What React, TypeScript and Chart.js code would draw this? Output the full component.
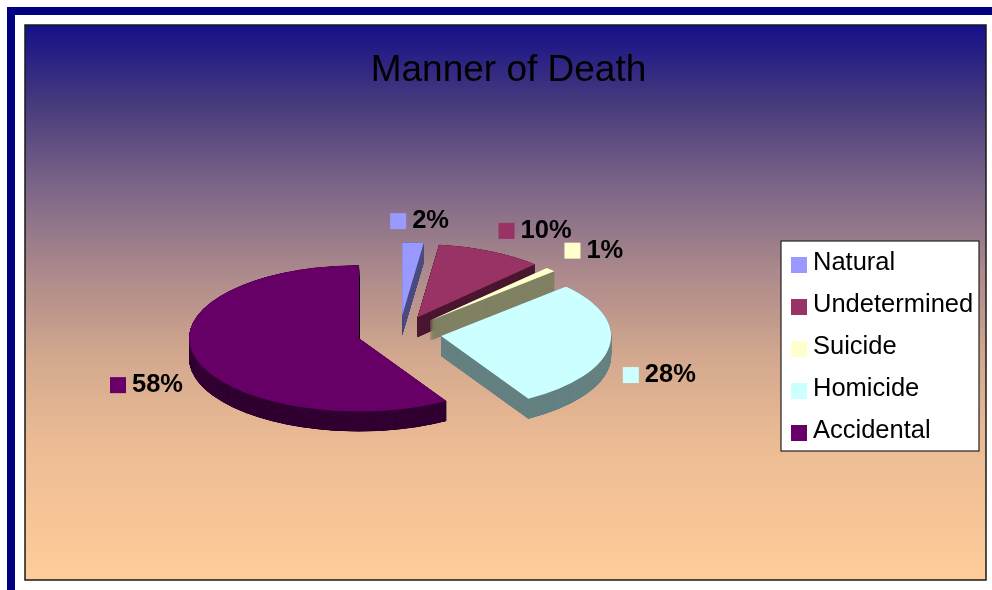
import React, { useEffect, useRef } from "react";
import { Chart, registerables } from "chart.js";

Chart.register(...registerables);

const categories = ["Natural", "Undetermined", "Suicide", "Homicide", "Accidental"];
const percentages = [2, 10, 1, 28, 58];
const topColors = ["#9999FF", "#993366", "#FFFFCC", "#CCFFFF", "#660066"];
const sideColors = ["#4D4D80", "#4D1A33", "#808066", "#668080", "#330033"];
const titleText = "Manner of Death";
const gradientStops: [number, string][] = [
  [0, "#15108A"],
  [0.14, "#463A7C"],
  [0.3, "#7F6888"],
  [0.45, "#AD8A8C"],
  [0.6, "#D3A88E"],
  [0.75, "#EBBB94"],
  [1, "#FFCC99"],
];
const labelNudgeX = [-18, -6, -14.5, -29, -28];
const labelNudgeY = [0.5, -0.5, -3.5, 25.5, 21.5];

const FONT = '"Liberation Sans", Arial, sans-serif';
const SQUISH = 0.43;
const DEPTH = 20;
const DEPTH_STEP = 0.1;
const RADIUS = 170;
const EXPLODE = 42;
const CX = 399.5;
const CY = 333.5;
const LABEL_DIST = 263;

const framePlugin = {
  id: "frame",
  beforeDraw(chart: any) {
    const { ctx } = chart;
    ctx.save();
    ctx.fillStyle = "#FFFFFF";
    ctx.fillRect(0, 0, 992, 590);
    ctx.fillStyle = "#000080";
    ctx.fillRect(7, 7, 985, 8);
    ctx.fillRect(7, 7, 8, 583);
    const g = ctx.createLinearGradient(0, 25, 0, 580);
    gradientStops.forEach(([p, c]) => g.addColorStop(p, c));
    ctx.fillStyle = g;
    ctx.fillRect(25, 25, 961, 555);
    ctx.strokeStyle = "#1A1A1A";
    ctx.lineWidth = 1.5;
    ctx.strokeRect(25, 25, 961, 555);
    ctx.restore();
  },
  afterLayout(chart: any) {
    const a = chart.chartArea;
    a.left = CX - RADIUS;
    a.right = CX + RADIUS;
    a.top = CY - RADIUS;
    a.bottom = CY + RADIUS;
    a.width = RADIUS * 2;
    a.height = RADIUS * 2;
  },
};

const pie3dPlugin = {
  id: "pie3d",
  beforeDatasetDraw(chart: any, args: any) {
    const { ctx } = chart;
    const arcs = args.meta.data;
    arcs.forEach((arc: any, i: number) => {
      const mid = (arc.startAngle + arc.endAngle) / 2;
      const place = (depth: number) => {
        ctx.translate(0, depth + CY);
        ctx.scale(1, SQUISH);
        ctx.translate(Math.cos(mid) * EXPLODE, Math.sin(mid) * EXPLODE - CY);
      };
      const original = arc.options;
      arc.options = new Proxy(original, {
        get: (t: any, k: any) => (k === "backgroundColor" ? sideColors[i] : t[k]),
      });
      for (let d = DEPTH; d > 0; d -= DEPTH_STEP) {
        ctx.save();
        place(d);
        arc.draw(ctx);
        ctx.restore();
      }
      arc.options = original;
      ctx.save();
      place(0);
      arc.draw(ctx);
      ctx.restore();
    });
    return false;
  },
  afterDatasetsDraw(chart: any) {
    const { ctx } = chart;
    const arcs = chart.getDatasetMeta(0).data;
    ctx.save();
    ctx.textBaseline = "middle";
    ctx.textAlign = "left";
    ctx.font = `bold 25.5px ${FONT}`;
    arcs.forEach((arc: any, i: number) => {
      const mid = (arc.startAngle + arc.endAngle) / 2;
      const x = arc.x + Math.cos(mid) * LABEL_DIST + labelNudgeX[i];
      const y = arc.y + Math.sin(mid) * LABEL_DIST * SQUISH + labelNudgeY[i];
      ctx.fillStyle = topColors[i];
      ctx.fillRect(x - 8, y - 8, 16, 16);
      ctx.fillStyle = "#000000";
      ctx.fillText(`${percentages[i]}%`, x + 14, y);
    });
    ctx.restore();
  },
};

const legendBoxPlugin = {
  id: "legendBox",
  afterDraw(chart: any) {
    const { ctx } = chart;
    const labels: string[] = chart.data.labels;
    ctx.save();
    ctx.fillStyle = "#FFFFFF";
    ctx.fillRect(781, 241, 198, 210);
    ctx.strokeStyle = "#222222";
    ctx.lineWidth = 1.2;
    ctx.strokeRect(781, 241, 198, 210);
    ctx.font = `25.5px ${FONT}`;
    ctx.textBaseline = "middle";
    ctx.textAlign = "left";
    labels.forEach((label, i) => {
      const rowY = 261 + i * 42;
      ctx.fillStyle = topColors[i];
      ctx.fillRect(791, rowY - 4, 16, 16);
      ctx.fillStyle = "#000000";
      ctx.fillText(label, 813, rowY + 2);
    });
    ctx.restore();
  },
};

export default function App() {
  const ref = useRef<HTMLCanvasElement | null>(null);
  useEffect(() => {
    if (!ref.current) return;
    const chart = new Chart(ref.current, {
      type: "pie",
      data: {
        labels: categories,
        datasets: [
          {
            data: percentages,
            backgroundColor: topColors,
            borderWidth: 0,
          },
        ],
      },
      options: {
        responsive: false,
        animation: false,
        radius: RADIUS,
        layout: { padding: { left: 25, right: 0, top: 20, bottom: 0 } },
        plugins: {
          legend: { display: false },
          tooltip: { enabled: false },
          title: {
            display: true,
            text: titleText,
            color: "#000000",
            font: { family: FONT, size: 37, weight: "normal" },
            padding: { top: 29, bottom: 10 },
          },
        },
      } as any,
      plugins: [framePlugin, pie3dPlugin, legendBoxPlugin] as any,
    });
    return () => chart.destroy();
  }, []);
  return (
    <canvas
      ref={ref}
      width={992}
      height={590}
      style={{ position: "absolute", left: 0, top: 0, display: "block" }}
    />
  );
}
